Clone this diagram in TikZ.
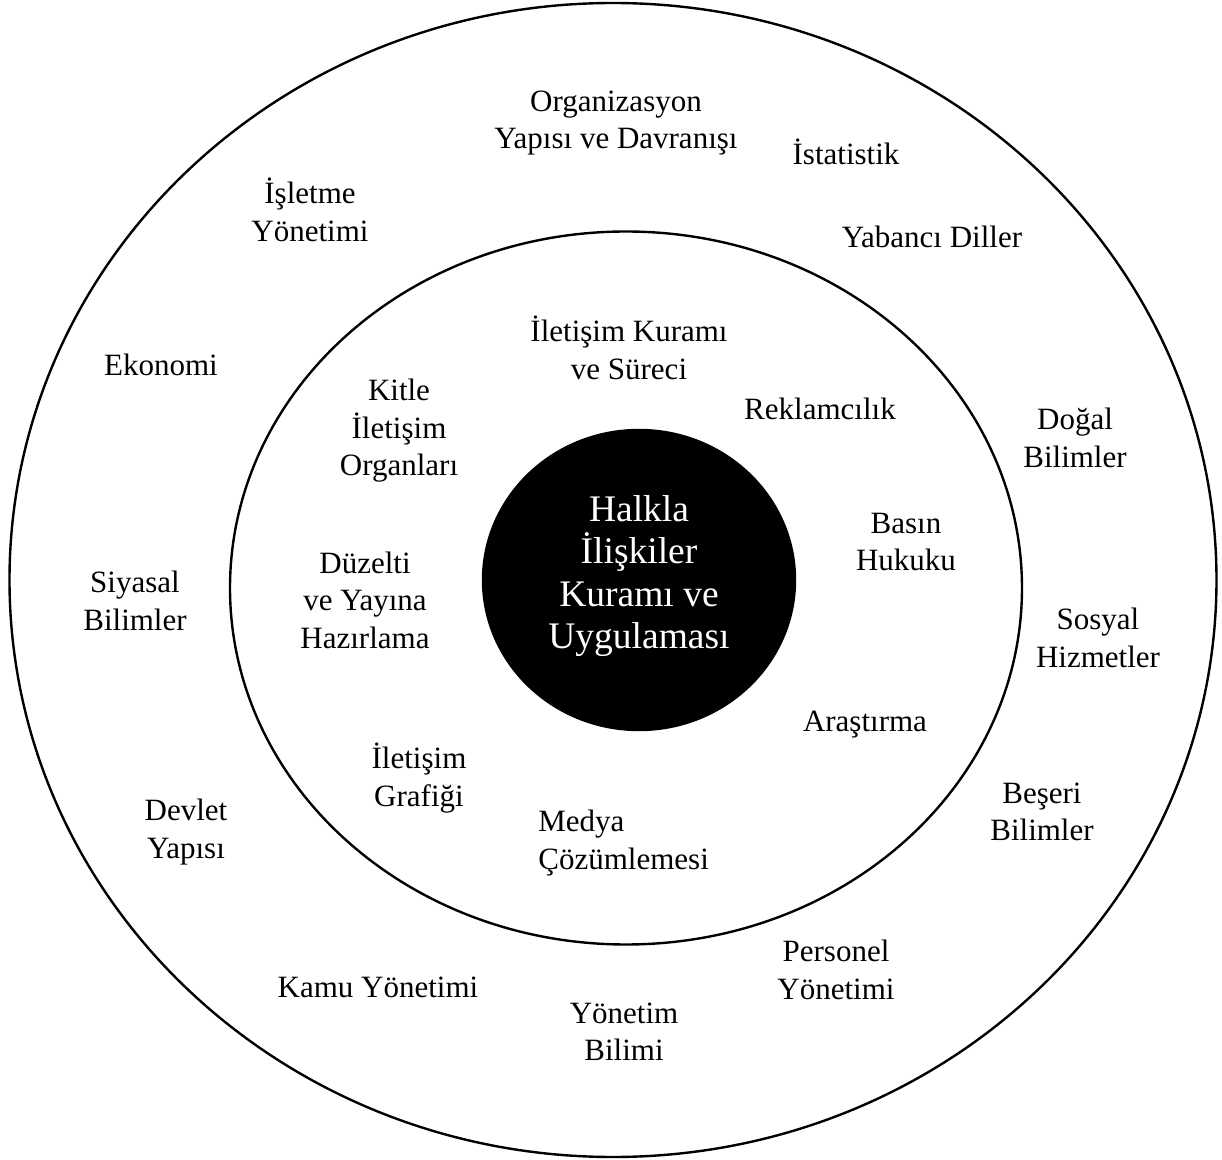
\documentclass[tikz,border=0pt]{standalone}
\usepackage{fontspec}
\setmainfont{Liberation Serif}
\newfontfamily\hubfont{Liberation Serif}
\usetikzlibrary{shapes.geometric}
\tikzset{
  ring/.style={
    draw,
    ellipse,
    line width=1.2pt,
    inner sep=0pt,
  },
  core/.style={
    ring,
    fill=black,
  },
  field/.style={
    align=center,
    inner sep=0pt,
    font=\fontsize{15.5}{18.75}\selectfont,
  },
  hubtext/.style={
    align=center,
    inner sep=0pt,
    text=white,
    font=\hubfont\fontsize{18.75}{21.2}\selectfont,
  },
}

\begin{document}
\begin{tikzpicture}[x=0.5pt, y=-0.5pt]
		\useasboundingbox (0,0) rectangle (1222,1160);

		% rings and centre
		\node[ring, minimum width=603.5pt, minimum height=577pt] (outer) at (613,580) {};
		\node[ring, minimum width=396pt, minimum height=356.5pt] (inner) at (626,588) {};
		\node[core, minimum width=156pt, minimum height=150pt] (hub) at (639,580) {};
		\node[hubtext] (hubl) at (639,576) {Halkla\\İlişkiler\\Kuramı ve\\Uygulaması};

		% outer ring
		\node[field] (org) at (616,123) {Organizasyon\\Yapısı ve Davranışı};
		\node[field] (ist) at (846,152) {İstatistik};
		\node[field] (isl) at (310,210) {İşletme\\Yönetimi};
		\node[field] (yab) at (932,237) {Yabancı Diller};
		\node[field] (eko) at (161,365) {Ekonomi};
		\node[field] (dog) at (1075,438) {Doğal\\Bilimler};
		\node[field] (siy) at (135,601) {Siyasal\\Bilimler};
		\node[field] (sos) at (1098,638) {Sosyal\\Hizmetler};
		\node[field] (dev) at (186,832) {Devlet\\Yapısı};
		\node[field] (bes) at (1042,812) {Beşeri\\Bilimler};
		\node[field] (per) at (836,970) {Personel\\Yönetimi};
		\node[field] (kam) at (378,987) {Kamu Yönetimi};
		\node[field] (ynb) at (624,1032) {Yönetim\\Bilimi};

		% inner ring
		\node[field] (ilk) at (629,348) {İletişim Kuramı\\ve Süreci};
		\node[field] (kit) at (399,431) {Kitle\\İletişim\\Organları};
		\node[field] (rek) at (820,409) {Reklamcılık};
		\node[field] (bas) at (906,542) {Basın\\Hukuku};
		\node[field] (duz) at (365,600) {Düzelti\\ve Yayına\\Hazırlama};
		\node[field] (ara) at (865,725) {Araştırma};
		\node[field] (ilg) at (419,778) {İletişim\\Grafiği};
		\node[field, align=left, anchor=west] (med) at (538,843) {Medya\\Çözümlemesi};

	\end{tikzpicture}
\end{document}
